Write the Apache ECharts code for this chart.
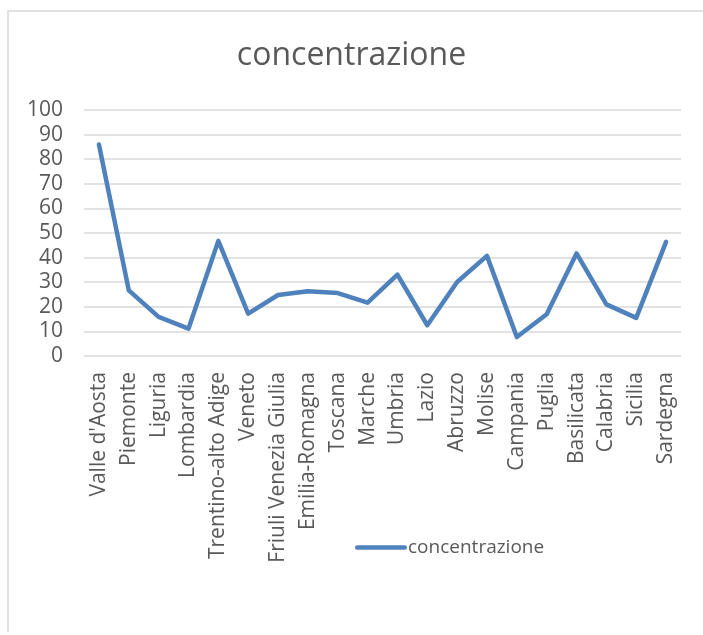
<!DOCTYPE html>
<html>
<head>
<meta charset="utf-8">
<script src="https://cdn.jsdelivr.net/npm/echarts@6/dist/echarts.min.js"></script>
<style>
  html, body { margin: 0; padding: 0; background: #fff; }
  #main { width: 703px; height: 635px; }
</style>
</head>
<body>
<div id="main"></div>
<script>
var regioni = ["Valle d'Aosta", 'Piemonte', 'Liguria', 'Lombardia', 'Trentino-alto Adige',
    'Veneto', 'Friuli Venezia Giulia', 'Emilia-Romagna', 'Toscana', 'Marche', 'Umbria',
    'Lazio', 'Abruzzo', 'Molise', 'Campania', 'Puglia', 'Basilicata', 'Calabria',
    'Sicilia', 'Sardegna'];
var concentrazione = [86, 26.7, 15.9, 11.1, 46.8, 17.2, 24.8, 26.3, 25.6, 21.7, 33.1,
    12.5, 30.1, 40.7, 7.7, 17, 41.7, 21, 15.5, 46.4];
var yMin = 0, yMax = 100, yStep = 10;

var myChart = echarts.init(document.getElementById('main'));

var option = {
    backgroundColor: '#fff',
    animation: false,
    title: {
        text: 'concentrazione',
        left: 'center',
        top: 35,
        textStyle: {
            color: '#595959',
            fontFamily: 'Open Sans',
            fontWeight: 'normal',
            fontSize: 32
        }
    },
    legend: {
        data: ['concentrazione'],
        left: 350,
        top: 533,
        itemWidth: 52,
        itemHeight: 20,
        itemGap: 4,
        icon: 'path://M2,7.8 L50,7.8 A2.2,2.2 0 0 1 50,12.2 L2,12.2 A2.2,2.2 0 0 1 2,7.8 Z',
        textStyle: {
            color: '#595959',
            fontFamily: 'Open Sans',
            fontSize: 19,
            padding: [0, 0, 0, -4]
        }
    },
    grid: {
        left: 84,
        right: 22,
        top: 110,
        bottom: 279,
        containLabel: false
    },
    xAxis: {
        type: 'category',
        data: regioni,
        boundaryGap: true,
        axisLine: { show: false },
        axisTick: { show: false },
        axisLabel: {
            rotate: 90,
            interval: 0,
            margin: 16,
            color: '#595959',
            fontFamily: 'Open Sans',
            fontSize: 21
        }
    },
    yAxis: {
        type: 'value',
        min: yMin,
        max: yMax,
        interval: yStep,
        axisLine: { show: false },
        axisTick: { show: false },
        axisLabel: {
            margin: 21,
            color: '#595959',
            fontFamily: 'Open Sans',
            fontSize: 21
        },
        splitLine: {
            lineStyle: { color: '#d9d9d9', width: 1.5 }
        }
    },
    graphic: [{
        type: 'polyline',
        shape: { points: [[8, 632], [8, 11], [703, 11]] },
        style: { stroke: '#d9d9d9', lineWidth: 1.5, fill: null }
    }],
    series: [{
        name: 'concentrazione',
        type: 'line',
        data: concentrazione,
        symbol: 'none',
        lineStyle: { color: '#4f81bd', width: 4.5, cap: 'round', join: 'round' },
        itemStyle: { color: '#4f81bd' }
    }]
};

myChart.setOption(option);
</script>
</body>
</html>
